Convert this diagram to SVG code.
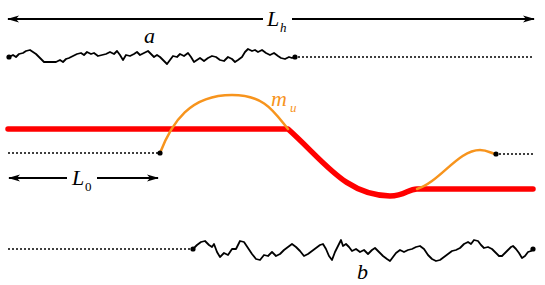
<svg xmlns="http://www.w3.org/2000/svg" width="545" height="285" viewBox="0 0 545 285">
<style>
.lbl{font-family:"Liberation Serif","Times New Roman",serif;font-style:italic;fill:#000}
.sub{font-family:"Liberation Serif","Times New Roman",serif;font-style:italic}
.up{font-family:"Liberation Serif","Times New Roman",serif}
.rough{fill:none;stroke:#000;stroke-width:1.8;stroke-linejoin:round}
.dot{fill:none;stroke:#000;stroke-width:1.5;stroke-dasharray:2 2}
.arr{stroke:#000;stroke-width:1.8;fill:none}
.orange{fill:none;stroke:#F7941D;stroke-width:2.5;stroke-linecap:round}
.red{fill:none;stroke:#FF0000;stroke-width:5.5;stroke-linecap:round;stroke-linejoin:round}
</style>
<defs>
<marker id="ah" viewBox="0 0 12 8" refX="11" refY="4" markerWidth="12" markerHeight="8" markerUnits="userSpaceOnUse" orient="auto-start-reverse">
<path d="M0,0.5 L12,4 L0,7.5 L3,4 Z" fill="#000"/>
</marker>
</defs>
<rect width="545" height="285" fill="#fff"/>
<g id="connectors">
<line class="arr" x1="8" y1="19" x2="263" y2="19" marker-start="url(#ah)"/>
<line class="arr" x1="292" y1="19" x2="534" y2="19" marker-end="url(#ah)"/>
<line class="arr" x1="9" y1="178" x2="67" y2="178" marker-start="url(#ah)"/>
<line class="arr" x1="97" y1="178" x2="158" y2="178" marker-end="url(#ah)"/>
</g>
<g id="label-Lh"><text class="lbl" x="267" y="26" font-size="22">L</text><text class="sub" x="280" y="32" font-size="13">h</text></g>
<g id="label-L0"><text class="lbl" x="72" y="185" font-size="22">L</text><text class="up" x="85" y="191" font-size="13">0</text></g>
<g id="surface-a">
<polyline class="rough" points="9,57 13,55 16,57 19,54 23,53 26,51 30,50 33,52 36,54 40,58 44,62 48,62 52,62 56,62 60,60 63,62 66,59 69,58 73,56 77,54 81,53 84,55 87,52 91,54 94,53 98,56 102,55 106,54 110,52 114,54 117,51 120,55 123,60 126,55 130,56 134,54 137,52 140,55 144,53 148,51 151,54 154,57 157,55 160,57 164,61 167,64 170,60 173,56 177,57 180,54 184,56 188,53 191,57 194,62 197,60 200,58 204,61 208,58 212,56 216,57 220,60 224,61 228,57 232,59 235,62 238,60 242,57 245,52 248,49 252,51 255,50 258,52 262,50 266,53 270,55 274,53 278,56 281,58 285,59 289,57 292,58 295,57"/>
<circle cx="9" cy="57" r="2.6"/><circle cx="295" cy="57" r="2.6"/>
<line class="dot" x1="298" y1="57" x2="534" y2="57"/>
<text class="lbl" x="144" y="43" font-size="22">a</text>
</g>
<g id="surface-b">
<line class="dot" x1="8" y1="249" x2="191" y2="249"/>
<polyline class="rough" points="193,249 197,245 201,242 205,241 209,245 212,247 214,244 217,252 220,257 224,253 228,255 232,249 236,249 240,241 244,242 248,248 252,254 256,259 260,260 264,255 268,256 272,252 276,256 280,254 284,250 288,247 292,244 296,247 300,251 304,256 308,254 312,251 316,248 320,245 323,244 326,249 329,256 332,260 335,252 338,246 341,240 343,246 346,244 349,247 352,251 356,249 360,252 364,250 368,254 372,250 375,248 379,252 383,256 387,259 390,261 393,257 396,253 400,250 404,252 408,250 412,249 416,247 420,246 424,249 428,255 432,259 436,261 440,260 444,257 448,254 452,251 456,250 460,248 464,244 468,242 471,244 474,240 478,241 481,245 484,248 488,247 492,249 495,252 499,256 502,256 505,253 508,250 511,247 513,246 516,249 519,253 522,258 525,256 528,252 531,251 533,249"/>
<circle cx="193" cy="249" r="2.6"/><circle cx="533" cy="249" r="2.6"/>
<text class="lbl" x="357" y="279" font-size="22">b</text>
</g>
<g id="red-line">
<path class="red" d="M8,129 L288,129 C325,162 345,195 390,196 C405,196 408,189 417,189 L533,189"/>
</g>
<g id="orange-mu">
<line class="dot" x1="8" y1="153" x2="158" y2="153"/>
<path class="orange" d="M160,153 C172,122 190,95 232,95 C265,95 274,112 288,129"/>
<path class="orange" d="M417,189 C440,182 458,150 480,150 C488,150 492,154 496,154"/>
<circle cx="160" cy="153" r="2.6"/><circle cx="496" cy="154" r="2.6"/>
<line class="dot" x1="499" y1="154" x2="534" y2="154"/>
<text x="271" y="106" font-size="22" fill="#F7941D" class="sub">m</text><text x="290" y="112" font-size="13" fill="#F7941D" class="sub">u</text>
</g>
</svg>
